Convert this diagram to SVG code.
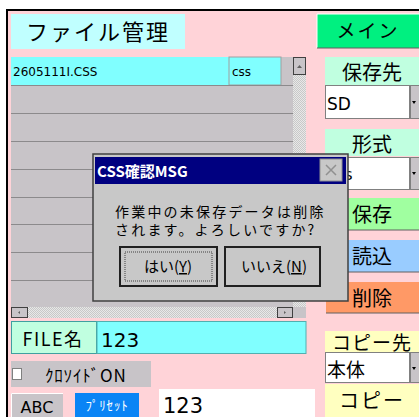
<svg xmlns="http://www.w3.org/2000/svg" width="419" height="417" viewBox="0 0 419 417">
<style>
.jp{font-family:"Noto Sans CJK JP","DejaVu Sans",sans-serif;fill:#000}
.mono{font-family:"DejaVu Sans","Noto Sans CJK JP",sans-serif;fill:#000}
.row{fill:#C8C4C8}
.sep{stroke:#8C8A8C;stroke-width:1}
.combo{fill:#fff;stroke:#808080;stroke-width:1}
.ddb{fill:#C8C4C8;stroke:#808080;stroke-width:1}
.btn3d{fill:#C8C4C8;stroke:#404040;stroke-width:1}
</style>
<defs>
<pattern id="chk" width="2" height="2" patternUnits="userSpaceOnUse">
<rect width="2" height="2" fill="#E8E8E8"/>
<rect width="1" height="1" fill="#C8C8C8"/>
<rect x="1" y="1" width="1" height="1" fill="#C8C8C8"/>
</pattern>
</defs>
<rect width="419" height="417" fill="#fff"/>
<rect x="6" y="9" width="413" height="408" fill="#FFD3D8"/>
<path d="M7 417V10H419" fill="none" stroke="#000" stroke-width="2"/>

<g id="title">
<rect x="11" y="14" width="174" height="35" fill="#C0FFFF"/>
<text class="jp" x="98" y="40" font-size="22" letter-spacing="2" text-anchor="middle">ファイル管理</text>
</g>

<g id="filelist">
<rect x="11" y="57" width="282" height="250" class="row"/>
<rect x="11" y="57" width="218" height="28" fill="#80FFFF"/>
<rect x="229" y="57" width="52" height="28" fill="#80FFFF" stroke="#A0A0A0" stroke-width="1"/>
<text class="mono" x="13" y="76" font-size="12">2605111I.CSS</text>
<text class="mono" x="232" y="76" font-size="12">css</text>
<line class="sep" x1="11" y1="85.5" x2="293" y2="85.5"/>
<line class="sep" x1="11" y1="113.5" x2="293" y2="113.5"/>
<line class="sep" x1="11" y1="141.5" x2="293" y2="141.5"/>
<line class="sep" x1="11" y1="169.5" x2="293" y2="169.5"/>
<line class="sep" x1="11" y1="197.5" x2="293" y2="197.5"/>
<line class="sep" x1="11" y1="224.5" x2="293" y2="224.5"/>
<line class="sep" x1="11" y1="252.5" x2="293" y2="252.5"/>
<line class="sep" x1="11" y1="280.5" x2="293" y2="280.5"/>
<rect x="293" y="57" width="13" height="250" fill="url(#chk)"/>
<rect x="293.5" y="57.5" width="12" height="17" class="btn3d"/>
<path d="M297 68h5l-2.5-3z" fill="#606060"/>
<rect x="11" y="307" width="282" height="11" fill="url(#chk)"/>
<rect x="11.5" y="307.5" width="16" height="10" class="btn3d"/>
<path d="M18 312.5l2-1.5v3z" fill="#606060"/>
<rect x="277.5" y="307.5" width="15" height="10" class="btn3d"/>
<path d="M286 312.5l-2-1.5v3z" fill="#606060"/>
<rect x="293" y="307" width="13" height="11" fill="#C8C4C8"/>
</g>

<g id="main-btn">
<rect x="317" y="14" width="102" height="34" fill="#00F080"/>
<path d="M317 48V14H419" fill="none" stroke="#fff" stroke-width="1"/>
<path d="M317 48H419" fill="none" stroke="#606060" stroke-width="1"/>
<text class="jp" x="368" y="38" font-size="19" letter-spacing="2" text-anchor="middle">メイン</text>
</g>

<g id="save-dest">
<rect x="325" y="57" width="94" height="28" fill="#C0FFE0"/>
<text class="jp" x="372" y="80" font-size="20" text-anchor="middle">保存先</text>
<rect x="325.5" y="85.5" width="84" height="33" class="combo"/>
<text class="mono" x="327" y="110" font-size="17">SD</text>
<rect x="410.5" y="85.5" width="9" height="33" class="ddb"/>
<path d="M412 101h4l-2 3z" fill="#000"/>
</g>

<g id="format">
<rect x="325" y="129" width="94" height="27" fill="#C0FFE0"/>
<text class="jp" x="372" y="152" font-size="20" text-anchor="middle">形式</text>
<rect x="325.5" y="157.5" width="84" height="32" class="combo"/>
<text class="mono" x="327" y="180" font-size="16">css</text>
<rect x="410.5" y="157.5" width="9" height="32" class="ddb"/>
<path d="M412 172h4l-2 3z" fill="#000"/>
</g>

<g id="save-btn">
<rect x="326" y="198" width="93" height="32" fill="#A0FFA0"/>
<path d="M326 230H419" stroke="#606060"/>
<text class="jp" x="372" y="222" font-size="20" text-anchor="middle">保存</text>
</g>

<g id="load-btn">
<rect x="326" y="240" width="93" height="32" fill="#99CCFF"/>
<path d="M326 272H419" stroke="#606060"/>
<text class="jp" x="372" y="264" font-size="20" text-anchor="middle">読込</text>
</g>

<g id="delete-btn">
<rect x="326" y="282" width="93" height="31" fill="#FF9966"/>
<path d="M326 313H419" stroke="#606060"/>
<text class="jp" x="372" y="306" font-size="20" text-anchor="middle">削除</text>
</g>

<g id="filename">
<rect x="11.5" y="321.5" width="85" height="32" fill="#C0FFE0" stroke="#40A0A0" stroke-width="1"/>
<text class="jp" x="53" y="346" font-size="18" letter-spacing="1.5" text-anchor="middle">FILE名</text>
<rect x="97" y="321.5" width="209" height="32" fill="#80FFFF" stroke="#50B0B0" stroke-width="1"/>
<text class="mono" x="101" y="347" font-size="20">123</text>
</g>

<g id="copy-dest">
<rect x="325" y="331" width="94" height="21" fill="#FFFFC0"/>
<text class="jp" x="372" y="350" font-size="19" letter-spacing="1" text-anchor="middle">コピー先</text>
<rect x="325.5" y="352.5" width="84" height="30" class="combo"/>
<text class="jp" x="327" y="377" font-size="19">本体</text>
<rect x="410.5" y="352.5" width="9" height="30" class="ddb"/>
<path d="M412 367h4l-2 3z" fill="#000"/>
</g>

<g id="copy-btn">
<rect x="325" y="384" width="94" height="33" fill="#FFFFC0"/>
<text class="jp" x="372" y="408" font-size="20" letter-spacing="2" text-anchor="middle">コピー</text>
</g>

<g id="clothoid">
<rect x="11" y="361" width="140" height="26" fill="#C8C4C8"/>
<rect x="12.5" y="368.5" width="9" height="11" fill="#fff" stroke="#808080"/>
<text class="jp" x="45" y="382" font-size="17" letter-spacing="0.8">ｸﾛｿｲﾄﾞON</text>
</g>

<g id="abc-btn">
<rect x="11" y="393" width="52" height="24" fill="#C8C4C8"/>
<path d="M11.5 417V393.5H63" fill="none" stroke="#fff"/>
<text class="mono" x="37" y="413" font-size="16" text-anchor="middle">ABC</text>
</g>

<g id="preset-btn">
<rect x="75" y="393" width="64" height="24" fill="#0A84F5"/>
<text class="jp" x="107" y="410" font-size="13" letter-spacing="0.8" style="fill:#fff" text-anchor="middle">ﾌﾟﾘｾｯﾄ</text>
</g>

<g id="value-box">
<rect x="159" y="389" width="156" height="28" fill="#fff"/>
<text class="mono" x="163" y="413" font-size="21">123</text>
</g>

<g id="dialog">
<rect x="93" y="154" width="255" height="147" fill="#C8C8C8" stroke="#404040" stroke-width="1.5"/>
<rect x="95" y="157" width="251" height="27" fill="#000080"/>
<text x="97" y="177" font-size="15" font-weight="bold" fill="#fff" font-family="'Noto Sans CJK JP','DejaVu Sans',sans-serif">CSS確認MSG</text>
<rect x="320" y="159" width="22" height="22" fill="#C8C8C8" stroke="#909090"/>
<path d="M326 165l10 10M336 165l-10 10" stroke="#909090" stroke-width="1.5"/>
<text class="jp" x="115" y="217" font-size="14" letter-spacing="2.2">作業中の未保存データは削除</text>
<text class="jp" x="115" y="235" font-size="14" letter-spacing="2.2">されます。よろしいですか?</text>
<rect x="120" y="247" width="97" height="39" fill="#C8C8C8" stroke="#202020" stroke-width="2"/>
<rect x="125" y="252" width="87" height="29" fill="none" stroke="#404040" stroke-width="1" stroke-dasharray="1 1"/>
<text class="jp" x="168" y="272" font-size="15" text-anchor="middle">はい(<tspan text-decoration="underline">Y</tspan>)</text>
<rect x="225" y="247" width="95" height="39" fill="#C8C8C8" stroke="#202020" stroke-width="2"/>
<text class="jp" x="274" y="272" font-size="15" text-anchor="middle">いいえ(<tspan text-decoration="underline">N</tspan>)</text>
</g>
</svg>
